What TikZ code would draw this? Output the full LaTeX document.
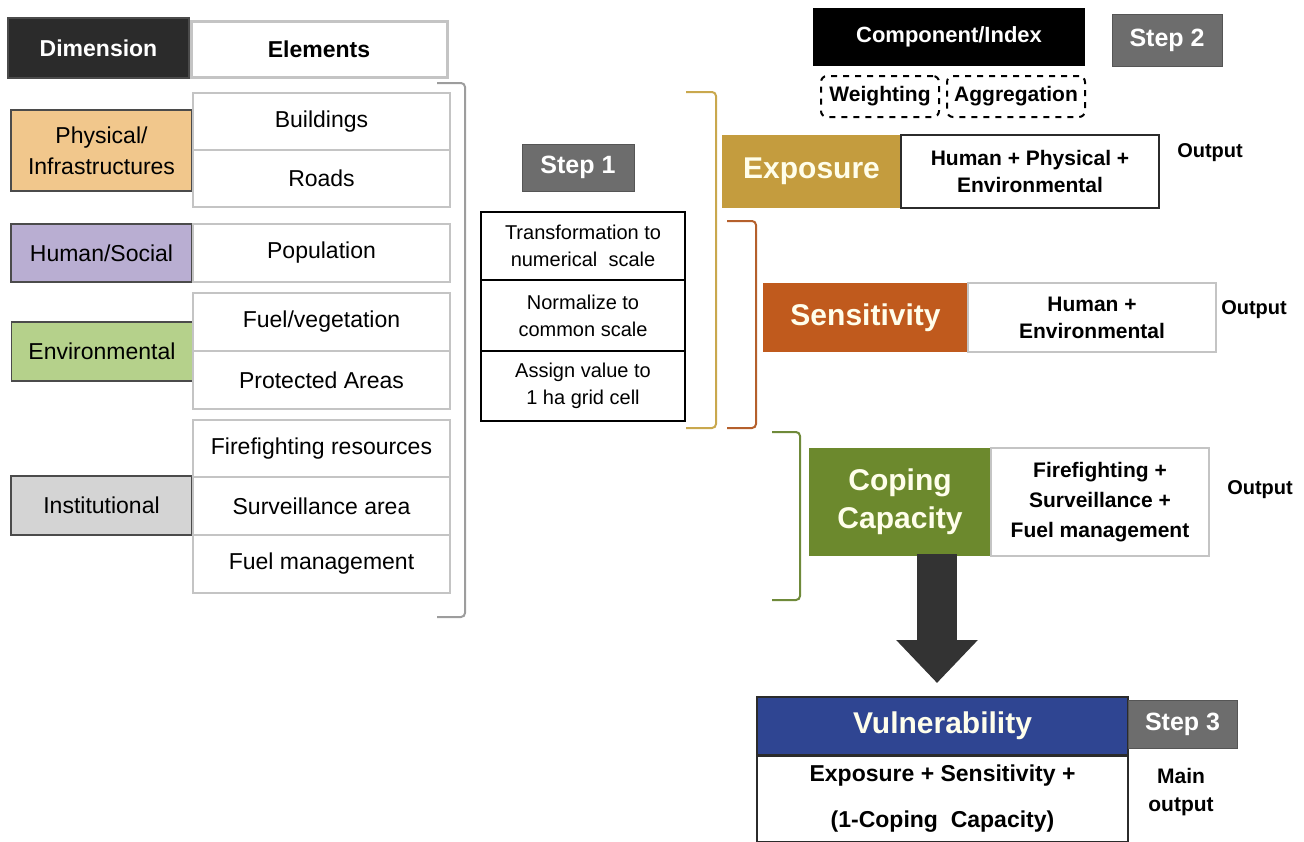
\documentclass[tikz,border=0pt]{standalone}
\usepackage{fontspec}
\setmainfont{Liberation Sans}
\usepackage{tikz}
\usetikzlibrary{arrows.meta}

\definecolor{darkbox}{HTML}{2B2B2B}
\definecolor{cellgray}{HTML}{C4C4C4}
\definecolor{physfill}{HTML}{F1C78C}
\definecolor{humfill}{HTML}{B9AED2}
\definecolor{envfill}{HTML}{B5D18B}
\definecolor{instfill}{HTML}{D4D4D4}
\definecolor{stepgray}{HTML}{6D6D6D}
\definecolor{expfill}{HTML}{C49C3E}
\definecolor{sensfill}{HTML}{C05A1D}
\definecolor{copfill}{HTML}{6C892D}
\definecolor{vulfill}{HTML}{2F4592}
\definecolor{expline}{HTML}{C9A84E}
\definecolor{sensline}{HTML}{B5602C}
\definecolor{copline}{HTML}{6F8A3A}
\definecolor{arrowdark}{HTML}{333333}

\tikzset{
  dimbox/.style={draw=darkbox!85, line width=0.8pt, minimum width=90.5pt,
    align=center, font=\fontsize{11.5}{15.5}\selectfont},
  cell/.style={draw=cellgray, line width=0.8pt, minimum width=128.5pt,
    minimum height=28.75pt, font=\fontsize{11.5}{14}\selectfont},
  stepcell/.style={draw=black, line width=0.8pt, minimum width=102pt,
    align=center, font=\fontsize{10}{13.5}\selectfont},
  stepbox/.style={draw=darkbox!80, fill=stepgray, text=white,
    font=\bfseries\fontsize{12.5}{14}\selectfont},
  compbox/.style={text=white!92!yellow, align=center,
    font=\bfseries\fontsize{15}{19}\selectfont},
  descbox/.style={line width=0.8pt, align=center,
    font=\bfseries\fontsize{10.5}{13.5}\selectfont},
  dashbox/.style={draw, dashed, line width=1pt, rounded corners=3pt, inner sep=1.5pt,
    minimum height=20.5pt, font=\bfseries\fontsize{10.5}{13}\selectfont},
  outlabel/.style={font=\bfseries\fontsize{10}{13.5}\selectfont, align=center},
  bracket/.style={line width=1pt, rounded corners=2pt}
}

\begin{document}
\begin{tikzpicture}[x=0.5pt,y=-0.5pt]
\useasboundingbox (0,0) rectangle (1304,841);

% dimensions and elements
\node[dimbox, fill=darkbox, text=white, minimum height=30pt, font=\bfseries\fontsize{11.5}{14}\selectfont] (dim) at (98.5,48) {Dimension};
\node[draw=cellgray, line width=1.5pt, minimum width=128pt, minimum height=28pt, font=\bfseries\fontsize{11.5}{14}\selectfont] (elem) at (319,49) {Elements};

\node[dimbox, fill=physfill, minimum height=40.5pt] (phys) at (101.5,150.5) {Physical/\\Infrastructures};
\node[cell] (bld) at (321.5,121.5) {Buildings};
\node[cell] (rds) at (321.5,178.5) {Roads};

\node[dimbox, fill=humfill, minimum height=29pt] (hum) at (101.5,253) {Human/Social};
\node[cell, minimum height=29pt] (pop) at (321.5,253) {Population};

\node[dimbox, fill=envfill, minimum height=29.5pt] (env) at (102,351.5) {Environmental};
\node[cell] (fuel) at (321.5,322) {Fuel/vegetation};
\node[cell] (prot) at (321.5,380) {Protected Areas};

\node[dimbox, fill=instfill, minimum height=29.5pt] (inst) at (101.5,505.5) {Institutional};
\node[cell] (fire) at (321.5,448.5) {Firefighting resources};
\node[cell] (surv) at (321.5,506) {Surveillance area};
\node[cell] (fman) at (321.5,564) {Fuel management};

\draw[bracket, draw=cellgray!80!black] (437,83) -- (465,83) -- (465,617) -- (437,617);

% step 1
\node[stepbox, minimum width=56pt, minimum height=23.5pt] (step1) at (578,167.5) {Step 1};
\node[stepcell, minimum height=34pt] (trans) at (583,246) {Transformation to\\numerical\ \ scale};
\node[stepcell, minimum height=35.5pt] (norm) at (583,315.5) {Normalize to\\common scale};
\node[stepcell, minimum height=35pt] (asgn) at (583,386) {Assign value to\\1 ha grid cell};

% step 2
\node[fill=black, text=white, minimum width=136pt, minimum height=29pt, font=\bfseries\fontsize{11}{13}\selectfont] (comp) at (949,37) {Component/Index};
\node[stepbox, minimum width=55pt, minimum height=26pt] (step2) at (1167,40) {Step 2};
\node[dashbox, minimum width=59pt] (wgt) at (880,96.5) {Weighting};
\node[dashbox, minimum width=69pt] (agg) at (1016,96.5) {Aggregation};

\node[compbox, fill=expfill, minimum width=89.5pt, minimum height=36.5pt] (exp) at (811.5,171.5) {Exposure};
\node[descbox, draw=darkbox, minimum width=129pt, minimum height=36.5pt] (expd) at (1030,171.5) {Human + Physical +\\Environmental};
\node[outlabel] (out1) at (1210,153) {Output};

\node[compbox, fill=sensfill, minimum width=102.5pt, minimum height=34.5pt] (sens) at (865.5,317.5) {Sensitivity};
\node[descbox, draw=cellgray, minimum width=124pt, minimum height=34.5pt] (sensd) at (1092,317.5) {Human +\\Environmental};
\node[outlabel] (out2) at (1254,310) {Output};

\node[compbox, fill=copfill, minimum width=91pt, minimum height=54pt] (cop) at (900,502) {Coping\\Capacity};
\node[descbox, draw=cellgray, minimum width=109pt, minimum height=54pt, font=\bfseries\fontsize{10.5}{15}\selectfont] (copd) at (1100,502) {Firefighting +\\Surveillance +\\Fuel management};
\node[outlabel] (out3) at (1260,490) {Output};

\draw[bracket, draw=expline] (686,92) -- (716,92) -- (716,428) -- (686,428);
\draw[bracket, draw=sensline] (727,221) -- (756,221) -- (756,428) -- (727,428);
\draw[bracket, draw=copline] (772,432) -- (800,432) -- (800,600) -- (772,600);

% step 3
\coordinate (abase) at (937,554);
\coordinate (atip) at (937,683);
\draw[arrowdark, line width=20pt, -{Triangle[width=39.5pt,length=21.5pt]}] (abase) -- (atip);

\node[compbox, draw=darkbox, line width=1pt, fill=vulfill, minimum width=185.5pt, minimum height=29pt] (vul) at (942.5,726) {Vulnerability};
\node[descbox, draw=darkbox, line width=1pt, minimum width=185.5pt, minimum height=43pt, font=\bfseries\fontsize{11.5}{23}\selectfont] (vuld) at (942.5,798.5) {Exposure + Sensitivity +\\(1-Coping\ \ Capacity)};
\node[stepbox, minimum width=54.5pt, minimum height=24pt] (step3) at (1182.5,724) {Step 3};
\node[outlabel, font=\bfseries\fontsize{10.5}{14}\selectfont] (mainout) at (1181,792) {Main\\output};
\end{tikzpicture}
\end{document}
